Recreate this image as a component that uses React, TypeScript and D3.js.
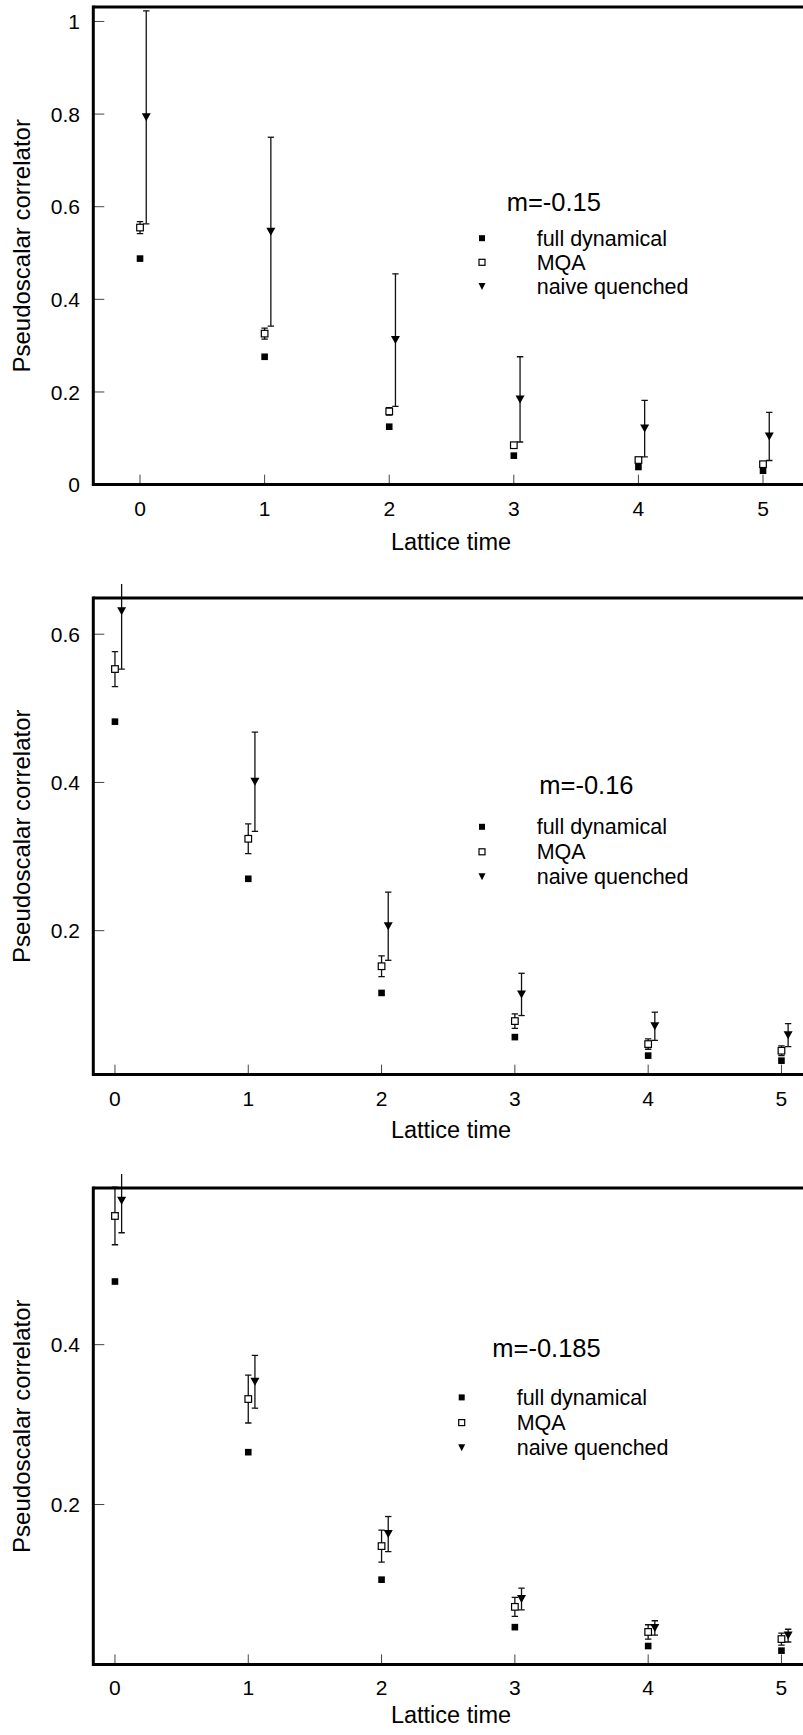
import React from 'react';
import * as d3 from 'd3';

// ---------- data ----------
const T = [0, 1, 2, 3, 4, 5];
const T_NAIVE = [0.05, 1.05, 2.05, 3.05, 4.05, 5.05];
const X_TICKS = [0, 1, 2, 3, 4, 5];
const X_TICK_LABELS = ['0', '1', '2', '3', '4', '5'];

// m = -0.15
const FULL_015 = [0.488, 0.276, 0.125, 0.0625, 0.038, 0.03];
const MQA_015 = [0.555, 0.326, 0.158, 0.085, 0.053, 0.044];
const MQA_ERR_015 = [0.013, 0.012, 0.008, 0.004, 0.003, 0.003];
const NAIVE_015 = [0.793, 0.546, 0.312, 0.184, 0.121, 0.104];
const NAIVE_ERR_015 = [0.23, 0.204, 0.143, 0.092, 0.061, 0.052];
const Y_TICKS_015 = [0, 0.2, 0.4, 0.6, 0.8, 1];
const Y_TICK_LABELS_015 = ['0', '0.2', '0.4', '0.6', '0.8', '1'];

// m = -0.16
const FULL_016 = [0.482, 0.27, 0.116, 0.0564, 0.0314, 0.0246];
const MQA_016 = [0.553, 0.324, 0.152, 0.078, 0.047, 0.038];
const MQA_ERR_016 = [0.0236, 0.02, 0.014, 0.0097, 0.007, 0.0065];
const NAIVE_016 = [0.631, 0.401, 0.206, 0.114, 0.071, 0.059];
const NAIVE_ERR_016 = [0.078, 0.067, 0.046, 0.0285, 0.019, 0.0155];
const Y_TICKS_016 = [0.2, 0.4, 0.6];
const Y_TICK_LABELS_016 = ['0.2', '0.4', '0.6'];

// m = -0.185
const FULL_0185 = [0.479, 0.2655, 0.106, 0.0466, 0.023, 0.0172];
const MQA_0185 = [0.561, 0.332, 0.148, 0.072, 0.0406, 0.0317];
const MQA_ERR_0185 = [0.036, 0.03, 0.02, 0.0118, 0.009, 0.0075];
const NAIVE_0185 = [0.58, 0.3535, 0.163, 0.0818, 0.0456, 0.036];
const NAIVE_ERR_0185 = [0.04, 0.033, 0.022, 0.0135, 0.009, 0.008];
const Y_TICKS_0185 = [0.2, 0.4];
const Y_TICK_LABELS_0185 = ['0.2', '0.4'];

const TITLES = ['m=-0.15', 'm=-0.16', 'm=-0.185'];
const LEGEND_LABELS = ['full dynamical', 'MQA', 'naive quenched'];
const X_LABEL = 'Lattice time';
const Y_LABEL = 'Pseudoscalar correlator';

// ---------- layout ----------
const W = 803;
const H = 1735;
const LEFT = 93.3;
const FONT = '"Liberation Sans", Arial, Helvetica, sans-serif';

const PANELS = [
  {
    title: TITLES[0], full: FULL_015, mqa: MQA_015, mqaErr: MQA_ERR_015, naive: NAIVE_015, naiveErr: NAIVE_ERR_015,
    yTicks: Y_TICKS_015, yLabels: Y_TICK_LABELS_015,
    top: 7.1, height: 477.5, yDomain: [0, 1.031], xDomain: [-0.375, 5.6], xUnit: 124.6, xLabelOff: 65,
    legend: { titleX: 506.7, titleY: 211.4, markX: 482, textX: 536.7, row0: 245.7, gap: 24.1 },
  },
  {
    title: TITLES[1], full: FULL_016, mqa: MQA_016, mqaErr: MQA_ERR_016, naive: NAIVE_016, naiveErr: NAIVE_ERR_016,
    yTicks: Y_TICKS_016, yLabels: Y_TICK_LABELS_016,
    top: 597.9, height: 476.7, yDomain: [0.0058, 0.649], xDomain: [-0.1625, 5.6], xUnit: 133.3, xLabelOff: 63,
    legend: { titleX: 539.3, titleY: 794.3, markX: 482, textX: 536.7, row0: 834.3, gap: 25 },
  },
  {
    title: TITLES[2], full: FULL_0185, mqa: MQA_0185, mqaErr: MQA_ERR_0185, naive: NAIVE_0185, naiveErr: NAIVE_ERR_0185,
    yTicks: Y_TICKS_0185, yLabels: Y_TICK_LABELS_0185,
    top: 1188, height: 476.4, yDomain: [0, 0.596], xDomain: [-0.1625, 5.6], xUnit: 133.3, xLabelOff: 59,
    legend: { titleX: 492.3, titleY: 1357.4, markX: 461.7, textX: 516.7, row0: 1404.9, gap: 25.2 },
  },
];

const SQ = 6.6;
const TRI_W = 9;
const TRI_H = 8;
const CAP = 3.2;

function triPath(x: number, y: number) {
  return `M${x - TRI_W / 2},${y - TRI_H / 2}L${x + TRI_W / 2},${y - TRI_H / 2}L${x},${y + TRI_H / 2}Z`;
}

function ErrBar({ x, y0, y1 }: { x: number; y0: number; y1: number }) {
  return (
    <g stroke="#111" strokeWidth={1.3}>
      <line x1={x} x2={x} y1={y0} y2={y1} />
      <line x1={x - CAP} x2={x + CAP} y1={y0} y2={y0} />
      <line x1={x - CAP} x2={x + CAP} y1={y1} y2={y1} />
    </g>
  );
}

function Panel({ p, idx }: { p: any; idx: number }) {
  const bottom = p.top + p.height;
  const x = d3
    .scaleLinear()
    .domain(p.xDomain)
    .range([LEFT, LEFT + (p.xDomain[1] - p.xDomain[0]) * p.xUnit]);
  const y = d3.scaleLinear().domain(p.yDomain).range([bottom, p.top]);
  const clipId = `clip-${idx}`;
  const right = x.range()[1];
  const lg = p.legend;

  return (
    <g>
      <defs>
        <clipPath id={clipId}>
          <rect x={LEFT} y={p.top - 14} width={W - LEFT + 50} height={p.height + 14} />
        </clipPath>
      </defs>

      {/* ticks */}
      <g stroke="#444" strokeWidth={1}>
        {X_TICKS.map((t) => (
          <line key={'xt' + t} x1={x(t)} x2={x(t)} y1={bottom} y2={bottom - 10} />
        ))}
        {p.yTicks.map((t: number) => (
          <line key={'yt' + t} x1={LEFT} x2={LEFT + 11} y1={y(t)} y2={y(t)} />
        ))}
      </g>

      {/* data */}
      <g clipPath={`url(#${clipId})`}>
        {T.map((t, i) => (
          <ErrBar key={'me' + i} x={x(t)} y0={y(p.mqa[i] + p.mqaErr[i])} y1={y(p.mqa[i] - p.mqaErr[i])} />
        ))}
        {T_NAIVE.map((t, i) => (
          <ErrBar key={'ne' + i} x={x(t)} y0={y(p.naive[i] + p.naiveErr[i])} y1={y(p.naive[i] - p.naiveErr[i])} />
        ))}
        {T.map((t, i) => (
          <rect key={'f' + i} x={x(t) - SQ / 2} y={y(p.full[i]) - SQ / 2} width={SQ} height={SQ} fill="#000" />
        ))}
        {T.map((t, i) => (
          <rect key={'m' + i} x={x(t) - SQ / 2} y={y(p.mqa[i]) - SQ / 2} width={SQ} height={SQ} fill="#fff" stroke="#000" strokeWidth={1.2} />
        ))}
        {T_NAIVE.map((t, i) => (
          <path key={'n' + i} d={triPath(x(t), y(p.naive[i]))} fill="#000" />
        ))}
      </g>

      {/* frame */}
      <g stroke="#000" strokeWidth={3} fill="none">
        <line x1={LEFT} x2={LEFT} y1={p.top - 1.5} y2={bottom + 1.5} />
        <line x1={LEFT} x2={right} y1={p.top} y2={p.top} />
        <line x1={LEFT} x2={right} y1={bottom} y2={bottom} />
      </g>

      {/* tick labels */}
      <g fontFamily={FONT} fontSize={21} fill="#000">
        {X_TICKS.map((t, i) => (
          <text key={'xl' + t} x={x(t)} y={bottom + 31} textAnchor="middle">
            {X_TICK_LABELS[i]}
          </text>
        ))}
        {p.yTicks.map((t: number, i: number) => (
          <text key={'yl' + t} x={80} y={y(t)} dy="0.36em" textAnchor="end">
            {p.yLabels[i]}
          </text>
        ))}
      </g>

      {/* axis labels */}
      <text x={451} y={bottom + p.xLabelOff} textAnchor="middle" fontFamily={FONT} fontSize={23.5}>
        {X_LABEL}
      </text>
      <text
        transform={`translate(30,${(p.top + bottom) / 2}) rotate(-90)`}
        textAnchor="middle"
        fontFamily={FONT}
        fontSize={24}
      >
        {Y_LABEL}
      </text>

      {/* legend */}
      <text x={lg.titleX} y={lg.titleY} fontFamily={FONT} fontSize={25.5}>
        {p.title}
      </text>
      {LEGEND_LABELS.map((lab, i) => {
        const by = lg.row0 + i * lg.gap;
        const my = by - 7.5;
        return (
          <g key={'lg' + i}>
            {i === 0 && <rect x={lg.markX - 3} y={my - 3} width={6} height={6} fill="#000" />}
            {i === 1 && <rect x={lg.markX - 3} y={my - 3} width={6} height={6} fill="#fff" stroke="#000" strokeWidth={1.2} />}
            {i === 2 && <path d={`M${lg.markX - 3.5},${my - 3.5}L${lg.markX + 3.5},${my - 3.5}L${lg.markX},${my + 3.5}Z`} fill="#000" />}
            <text x={lg.textX} y={by} fontFamily={FONT} fontSize={21.5}>
              {lab}
            </text>
          </g>
        );
      })}
    </g>
  );
}

export default function App() {
  return (
    <svg
      width={W}
      height={H}
      viewBox={`0 0 ${W} ${H}`}
      style={{ position: 'absolute', left: 0, top: 0, background: '#fff' }}
    >
      <rect x={0} y={0} width={W} height={H} fill="#fff" />
      {PANELS.map((p, i) => (
        <Panel key={i} p={p} idx={i} />
      ))}
    </svg>
  );
}
